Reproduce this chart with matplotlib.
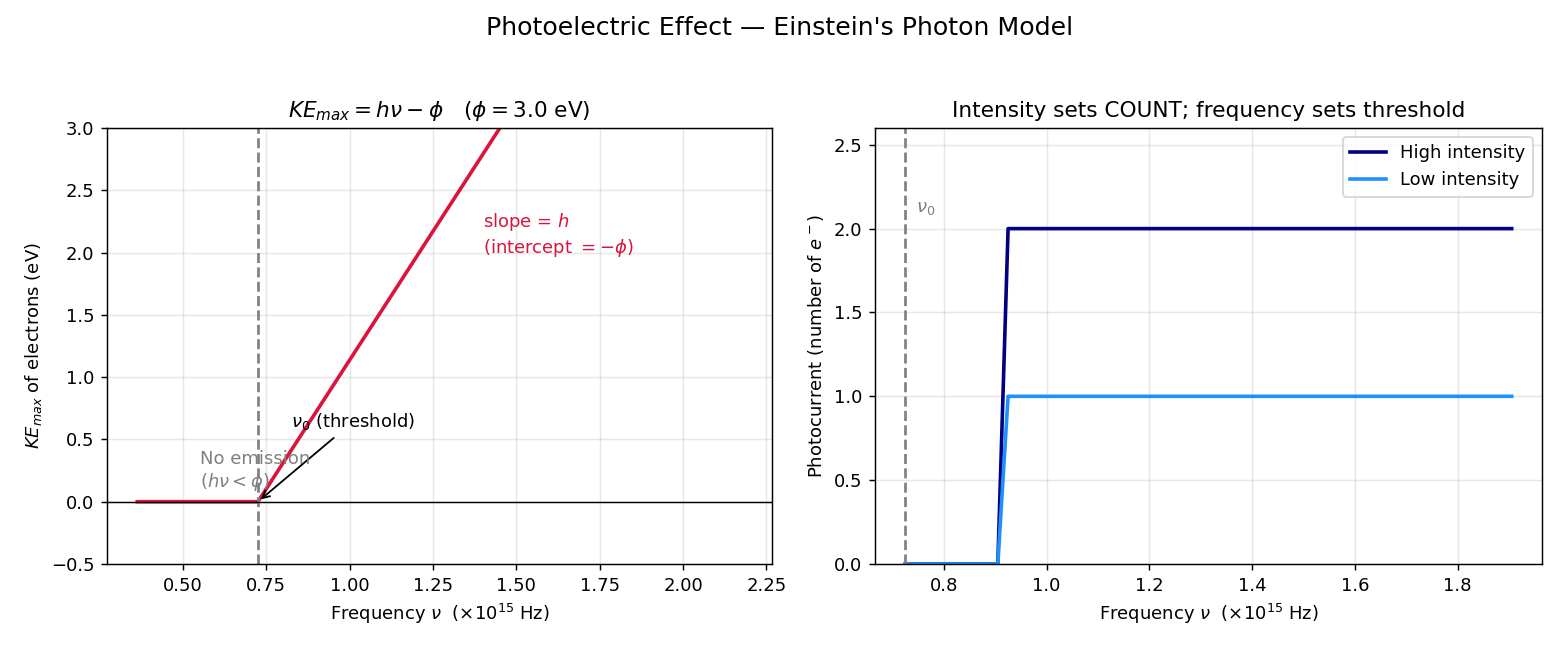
import matplotlib
matplotlib.use("Agg")
import matplotlib.pyplot as plt

# ---- data ----
phi = 3.0                      # work function (eV)
nu0 = 0.725                    # threshold frequency (x1e15 Hz)
ke_freq = [0.363, 0.725, 2.176]  # frequency breakpoints (x1e15 Hz)
ke_vals = [0.0, 0.0, 6.0]        # KE_max (eV)

pc_freq = [0.725, 0.905, 0.925, 1.905]
high_int = [0.0, 0.0, 2.0, 2.0]
low_int = [0.0, 0.0, 1.0, 1.0]

fig = plt.figure(figsize=(12, 5), dpi=130)
ax1 = fig.add_axes([107 / 1560, 1 - 564 / 650, 665 / 1560, 436 / 650])
ax2 = fig.add_axes([875 / 1560, 1 - 564 / 650, 667 / 1560, 436 / 650])

fig.suptitle("Photoelectric Effect — Einstein's Photon Model", fontsize=14, y=0.975)

# ---- left panel ----
ax1.plot(ke_freq, ke_vals, color='crimson', lw=2)
ax1.axvline(nu0, color='gray', ls='--', lw=1.5)
ax1.axhline(0, color='k', lw=0.8)
ax1.set_ylim(-0.5, 3.0)
ax1.set_xlabel(r"Frequency $\nu$  ($\times 10^{15}$ Hz)")
ax1.set_ylabel(r"$KE_{max}$ of electrons (eV)")
ax1.set_title(r"$KE_{max} = h\nu - \phi$   ($\phi = 3.0$ eV)", fontsize=12)
ax1.grid(True, alpha=0.3)
ax1.annotate(r"$\nu_0$ (threshold)", xy=(nu0, 0), xytext=(nu0 + 0.1, 0.6),
             arrowprops=dict(arrowstyle='->', color='k', lw=1), fontsize=10)
ax1.text(0.55, 0.12, "No emission\n" + r"($h\nu < \phi$)", color='gray', fontsize=10)
ax1.text(1.4, 2.0, "slope = $h$\n" + r"(intercept $= -\phi$)", color='crimson', fontsize=10)

# ---- right panel ----
ax2.plot(pc_freq, high_int, color='navy', lw=2, label='High intensity')
ax2.plot(pc_freq, low_int, color='dodgerblue', lw=2, label='Low intensity')
ax2.axvline(nu0, color='gray', ls='--', lw=1.5)
ax2.text(nu0 + 0.02, 2.1, r"$\nu_0$", color='gray', fontsize=10)
ax2.set_ylim(0, 2.6)
ax2.set_xlabel(r"Frequency $\nu$  ($\times 10^{15}$ Hz)")
ax2.set_ylabel(r"Photocurrent (number of $e^-$)")
ax2.set_title("Intensity sets COUNT; frequency sets threshold", fontsize=12)
ax2.grid(True, alpha=0.3)
ax2.legend(loc='upper right')

fig.savefig("out.png", dpi=130)
